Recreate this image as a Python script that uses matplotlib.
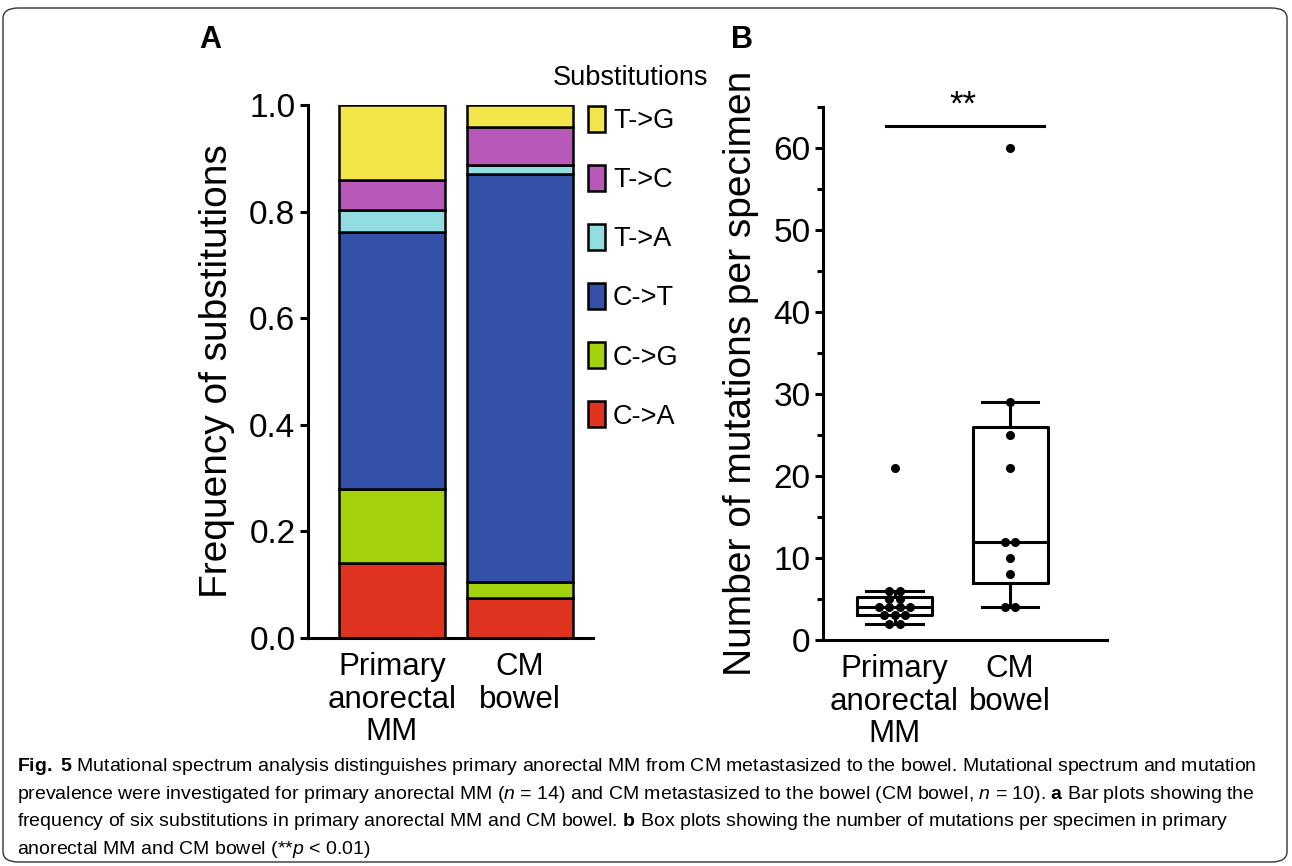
import numpy as np
import matplotlib
matplotlib.use('Agg')
import matplotlib.pyplot as plt
from matplotlib.patches import FancyBboxPatch

plt.rcParams['font.family'] = ['Liberation Sans', 'DejaVu Sans']
plt.rcParams['mathtext.fontset'] = 'custom'
plt.rcParams['mathtext.rm'] = 'Liberation Sans'
plt.rcParams['mathtext.it'] = 'Liberation Sans:italic'
plt.rcParams['mathtext.bf'] = 'Liberation Sans:bold'

# ---- data -------------------------------------------------------------
groups_a = ['Primary\nanorectal\nMM', 'CM\nbowel']
subst = ['C->A', 'C->G', 'C->T', 'T->A', 'T->C', 'T->G']
subst_colors = ['#e0331f', '#a3d10b', '#3451a9', '#92dde2', '#b858b9', '#f3e64a']
freq_primary = [0.140, 0.140, 0.482, 0.041, 0.056, 0.141]
freq_cm = [0.075, 0.030, 0.765, 0.017, 0.071, 0.042]

groups_b = ['Primary\nanorectal\nMM', 'CM\nbowel']
muts_primary = [2, 2, 3, 3, 3, 4, 4, 4, 4, 5, 5, 6, 6, 21]
muts_cm = [4, 4, 8, 10, 12, 12, 21, 25, 29, 60]

caption = (r"$\mathbf{Fig.\ 5}$ Mutational spectrum analysis distinguishes primary anorectal MM from CM metastasized to the bowel. Mutational spectrum and mutation" "\n"
           r"prevalence were investigated for primary anorectal MM ($\mathit{n}$ = 14) and CM metastasized to the bowel (CM bowel, $\mathit{n}$ = 10). $\mathbf{a}$ Bar plots showing the" "\n"
           r"frequency of six substitutions in primary anorectal MM and CM bowel. $\mathbf{b}$ Box plots showing the number of mutations per specimen in primary" "\n"
           r"anorectal MM and CM bowel (**$\mathit{p}$ < 0.01)")

W, H = 1292, 866
LW = 2.2


def px(x0, y0, x1, y1):
    # pixel box (top-left origin) -> figure fraction rect
    return [x0 / W, 1 - y1 / H, (x1 - x0) / W, (y1 - y0) / H]


def prism_stats(vals):
    v = np.sort(np.asarray(vals, float))
    q1, med, q3 = np.percentile(v, [25, 50, 75], method='weibull')
    iqr = q3 - q1
    lo = v[v >= q1 - 1.5 * iqr].min()
    hi = v[v <= q3 + 1.5 * iqr].max()
    return dict(med=med, q1=q1, q3=q3, whislo=lo, whishi=hi, fliers=[])


def swarm(vals, center, step):
    vals = np.asarray(vals, float)
    xs = np.zeros(len(vals))
    for u in np.unique(vals):
        idx = np.where(vals == u)[0]
        k = len(idx)
        xs[idx] = center + (np.arange(k) - (k - 1) / 2) * step
    return xs


fig = plt.figure(figsize=(W / 100, H / 100), dpi=100)

# rounded frame round the whole figure
frame = FancyBboxPatch((3 / W, 4 / H), 1 - 8 / W, 1 - 12 / H,
                       boxstyle='round,pad=0,rounding_size=0.012',
                       transform=fig.transFigure, fill=False,
                       edgecolor='#333333', linewidth=1.0)
fig.patches.append(frame)

# ---- panel A: stacked bars ---------------------------------------------
axA = fig.add_axes(px(308, 105, 593, 638))
xa = np.arange(len(groups_a))
bottom = np.zeros(len(groups_a))
handles = []
for i, name in enumerate(subst):
    vals = np.array([freq_primary[i], freq_cm[i]])
    b = axA.bar(xa, vals, bottom=bottom, width=0.83, color=subst_colors[i],
                edgecolor='black', linewidth=1.8, label=name)
    handles.append(b)
    bottom += vals
axA.set_xlim(-0.656, 1.57)
axA.set_ylim(0, 1.0)
axA.set_yticks([0, 0.2, 0.4, 0.6, 0.8, 1.0])
axA.set_yticklabels(['0.0', '0.2', '0.4', '0.6', '0.8', '1.0'])
axA.set_xticks(xa)
axA.set_xticklabels(groups_a, linespacing=1.12)
axA.set_ylabel('Frequency of substitutions', fontsize=28, labelpad=10)

# ---- panel B: box plots --------------------------------------------------
axB = fig.add_axes(px(823, 107, 1107, 640))
xb = np.arange(len(groups_b))
stats = [prism_stats(muts_primary), prism_stats(muts_cm)]
axB.bxp(stats, positions=xb, widths=0.65, capwidths=[0.49, 0.49],
        showfliers=False, patch_artist=False,
        boxprops=dict(linewidth=LW, color='black'),
        whiskerprops=dict(linewidth=LW, color='black'),
        capprops=dict(linewidth=LW, color='black'),
        medianprops=dict(linewidth=LW, color='black'))
for pos, vals in zip(xb, [muts_primary, muts_cm]):
    axB.scatter(swarm(vals, pos, 0.09), vals, s=30, color='black', zorder=5)
axB.set_xlim(-0.62, 1.84)
axB.set_ylim(0, 65)
axB.set_yticks(np.arange(0, 61, 10))
axB.set_yticks(np.arange(5, 66, 10), minor=True)
axB.set_xticks(xb)
axB.set_xticklabels(groups_b, linespacing=1.12)
axB.set_ylabel('Number of mutations per specimen', fontsize=28, labelpad=10)

# significance bar
axB.plot([-0.075, 1.29], [62.7, 62.7], color='black', linewidth=LW, clip_on=False)
axB.text(0.59, 63.2, '**', ha='center', va='bottom', fontsize=25, clip_on=False)

for ax in (axA, axB):
    for s in ('top', 'right'):
        ax.spines[s].set_visible(False)
    for s in ('left', 'bottom'):
        ax.spines[s].set_linewidth(LW)
    ax.tick_params(axis='y', which='major', length=6, width=LW, labelsize=24, pad=3)
    ax.tick_params(axis='x', length=0, labelsize=22.5, pad=10)
axB.tick_params(axis='y', which='minor', length=4, width=LW)

# legend (title drawn separately so it sits closer to the entries)
fig.text(630 / W, 1 - 78 / H, 'Substitutions', fontsize=19.5, ha='center', va='center')
fig.legend(handles[::-1], subst[::-1],
           loc='upper left', bbox_to_anchor=(588 / W, 1 - 106 / H),
           frameon=False, fontsize=19.5,
           handlelength=0.62, handleheight=1.1, handletextpad=0.3,
           labelspacing=1.14, borderpad=0, borderaxespad=0)

# panel letters
fig.text(210 / W, 1 - 40 / H, 'A', fontsize=22, fontweight='bold', ha='center', va='center')
fig.text(742 / W, 1 - 40 / H, 'B', fontsize=22, fontweight='bold', ha='center', va='center')

# caption
fig.text(17 / W, 1 - 756 / H, caption, ha='left', va='top', fontsize=14,
         linespacing=1.45)

fig.savefig('out.png', dpi=100)
